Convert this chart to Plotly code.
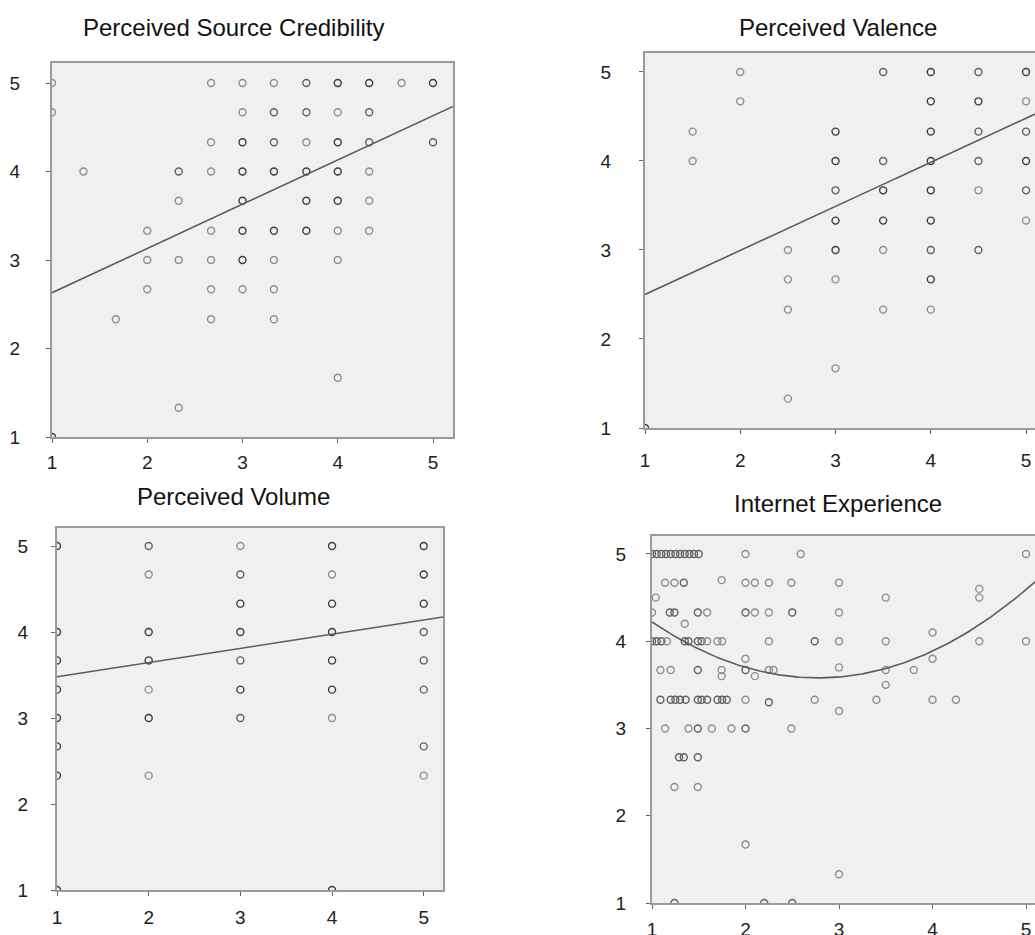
import numpy as np
import plotly.graph_objects as go

# ---------------- data ----------------
titles = ["Perceived Source Credibility", "Perceived Valence", "Perceived Volume", "Internet Experience"]
tick_vals = [1, 2, 3, 4, 5]
tick_text = ["1", "2", "3", "4", "5"]

# Panel 1: Perceived Source Credibility
cred_x = [1, 2.67, 3, 3.33, 3.67, 4, 4.33, 4.67, 5,
          1, 3, 3.33, 3.67, 4, 4.33,
          2.67, 3, 3.33, 3.67, 4, 4.33, 5,
          1.33, 2.33, 2.67, 3, 3.33, 3.67, 4, 4.33,
          2.33, 3, 3.67, 4, 4.33,
          2, 2.67, 3, 3.33, 3.67, 4, 4.33,
          2, 2.33, 2.67, 3, 3.33, 4,
          2, 2.67, 3, 3.33,
          1.67, 2.67, 3.33,
          4, 2.33, 1]
cred_y = [5, 5, 5, 5, 5, 5, 5, 5, 5,
          4.67, 4.67, 4.67, 4.67, 4.67, 4.67,
          4.33, 4.33, 4.33, 4.33, 4.33, 4.33, 4.33,
          4, 4, 4, 4, 4, 4, 4, 4,
          3.67, 3.67, 3.67, 3.67, 3.67,
          3.33, 3.33, 3.33, 3.33, 3.33, 3.33, 3.33,
          3, 3, 3, 3, 3, 3,
          2.67, 2.67, 2.67, 2.67,
          2.33, 2.33, 2.33,
          1.67, 1.33, 1]
cred_n = [1, 1, 1, 1, 2, 3, 3, 1, 3,
          1, 1, 2, 2, 1, 2,
          1, 3, 2, 1, 3, 2, 2,
          1, 2, 1, 3, 3, 3, 3, 1,
          1, 3, 3, 3, 1,
          1, 1, 3, 3, 3, 1, 1,
          1, 1, 1, 3, 1, 1,
          1, 1, 1, 1,
          1, 1, 1,
          1, 1, 3]
cred_fit = [2.13, 0.50]   # intercept, slope

# Panel 2: Perceived Valence
val_x = [2, 3.5, 4, 4.5, 5,
         2, 4, 4.5, 5,
         1.5, 3, 4, 4.5, 5,
         1.5, 3, 3.5, 4, 4.5, 5,
         3, 3.5, 4, 4.5, 5,
         3, 3.5, 4, 5,
         2.5, 3, 3.5, 4, 4.5,
         2.5, 3, 4,
         2.5, 3.5, 4,
         3, 2.5, 1]
val_y = [5, 5, 5, 5, 5,
         4.67, 4.67, 4.67, 4.67,
         4.33, 4.33, 4.33, 4.33, 4.33,
         4, 4, 4, 4, 4, 4,
         3.67, 3.67, 3.67, 3.67, 3.67,
         3.33, 3.33, 3.33, 3.33,
         3, 3, 3, 3, 3,
         2.67, 2.67, 2.67,
         2.33, 2.33, 2.33,
         1.67, 1.33, 1]
val_n = [1, 2, 3, 2, 3,
         1, 3, 3, 1,
         1, 3, 3, 2, 2,
         1, 3, 2, 3, 2, 3,
         2, 3, 3, 1, 2,
         3, 3, 3, 1,
         1, 3, 1, 2, 2,
         1, 1, 3,
         1, 1, 1,
         1, 1, 3]
val_fit = [2.005, 0.495]

# Panel 3: Perceived Volume
vol_x = [1, 1, 1, 1, 1, 1, 1, 1,
         2, 2, 2, 2, 2, 2, 2,
         3, 3, 3, 3, 3, 3, 3,
         4, 4, 4, 4, 4, 4, 4, 4,
         5, 5, 5, 5, 5, 5, 5, 5]
vol_y = [5, 4, 3.67, 3.33, 3, 2.67, 2.33, 1,
         5, 4.67, 4, 3.67, 3.33, 3, 2.33,
         5, 4.67, 4.33, 4, 3.67, 3.33, 3,
         5, 4.67, 4.33, 4, 3.67, 3.33, 3, 1,
         5, 4.67, 4.33, 4, 3.67, 3.33, 2.67, 2.33]
vol_n = [3, 3, 3, 3, 3, 3, 3, 3,
         2, 1, 3, 3, 1, 3, 1,
         1, 2, 3, 3, 2, 3, 2,
         3, 1, 3, 3, 3, 3, 1, 3,
         3, 3, 3, 2, 2, 2, 2, 1]
vol_fit = [3.315, 0.165]

# Panel 4: Internet Experience
exp_x = [1.0, 1.05, 1.1, 1.15, 1.2, 1.25, 1.3, 1.35, 1.4, 1.45, 1.5, 2.0, 2.59, 5.0,
         1.14, 1.24, 1.34, 1.745, 2.0, 2.1, 2.25, 2.49, 3.0,
         1.04, 3.5, 4.5, 4.5,
         1.0, 1.19, 1.24, 1.49, 1.59, 2.0, 2.1, 2.25, 2.5, 3.0,
         1.35,
         1.0, 1.05, 1.1, 1.16, 1.35, 1.39, 1.49, 1.53, 1.59, 1.7, 1.75, 2.25, 2.74, 3.0, 3.5, 4.5, 5.0,
         4.0, 2.0, 4.0,
         1.09, 1.2, 1.49, 1.745, 2.0, 2.25, 2.3, 3.5, 3.8,
         3.0, 1.745, 2.1, 3.5,
         1.09, 1.2, 1.25, 1.3, 1.36, 1.49, 1.53, 1.59, 1.7, 1.75, 1.8, 2.0, 2.74, 3.4, 4.0, 4.25,
         2.25, 3.0,
         1.14, 1.39, 1.49, 1.64, 1.85, 2.0, 2.49,
         1.29, 1.34, 1.49,
         1.24, 1.49,
         2.0, 3.0,
         1.24, 2.2, 2.5]
exp_y = [5, 5, 5, 5, 5, 5, 5, 5, 5, 5, 5, 5, 5, 5,
         4.67, 4.67, 4.67, 4.7, 4.67, 4.67, 4.67, 4.67, 4.67,
         4.5, 4.5, 4.6, 4.5,
         4.33, 4.33, 4.33, 4.33, 4.33, 4.33, 4.33, 4.33, 4.33, 4.33,
         4.2,
         4, 4, 4, 4, 4, 4, 4, 4, 4, 4, 4, 4, 4, 4, 4, 4, 4,
         4.1, 3.8, 3.8,
         3.67, 3.67, 3.67, 3.67, 3.67, 3.67, 3.67, 3.67, 3.67,
         3.7, 3.6, 3.6, 3.5,
         3.33, 3.33, 3.33, 3.33, 3.33, 3.33, 3.33, 3.33, 3.33, 3.33, 3.33, 3.33, 3.33, 3.33, 3.33, 3.33,
         3.3, 3.2,
         3, 3, 3, 3, 3, 3, 3,
         2.67, 2.67, 2.67,
         2.33, 2.33,
         1.67, 1.33,
         1, 1, 1]
exp_n = [2, 2, 2, 2, 2, 2, 2, 2, 2, 2, 2, 1, 1, 1,
         1, 1, 2, 1, 1, 1, 1, 1, 1,
         1, 1, 1, 1,
         1, 2, 2, 2, 1, 2, 1, 1, 2, 1,
         1,
         2, 2, 2, 1, 2, 2, 2, 2, 1, 1, 1, 1, 2, 1, 1, 1, 1,
         1, 1, 1,
         1, 1, 2, 1, 2, 1, 1, 1, 1,
         1, 1, 1, 1,
         2, 2, 2, 2, 2, 2, 2, 2, 2, 2, 2, 1, 1, 1, 1, 1,
         2, 1,
         1, 1, 2, 1, 1, 2, 1,
         2, 2, 2,
         1, 1,
         1, 1,
         2, 2, 2]
exp_fit = [5.1485, -1.1315, 0.204]   # c0, c1, c2

# ---------------- layout geometry ----------------
W, H = 1035, 935
panels = [
    dict(px=(52, 453), py=(63, 437), xr=(1, 5.21), yr=(1, 5.226), right=True, ystand=22, xstand=3),
    dict(px=(645, 1035), py=(53, 428), xr=(1, 5.094), yr=(1, 5.213), right=False, ystand=24, xstand=10),
    dict(px=(57, 443), py=(528, 890), xr=(1, 5.21), yr=(1, 5.21), right=True, ystand=19, xstand=5),
    dict(px=(652, 1035), py=(536, 903), xr=(1, 5.096), yr=(1, 5.206), right=False, ystand=16, xstand=4),
]
title_pos = [(233, 27), (838, 27), (233, 497), (838, 503)]

shade = {1: "#8e8e8e", 2: "#606060", 3: "#3c3c3c"}

fig = go.Figure()
data_sets = [(cred_x, cred_y, cred_n), (val_x, val_y, val_n), (vol_x, vol_y, vol_n), (exp_x, exp_y, exp_n)]

for i, (xs, ys, ns) in enumerate(data_sets):
    k = "" if i == 0 else str(i + 1)
    fig.add_trace(go.Scatter(
        x=xs, y=ys, mode="markers", xaxis="x" + k, yaxis="y" + k,
        marker=dict(symbol="circle-open", size=7,
                    color=[shade[n] for n in ns],
                    line=dict(width=1.4, color=[shade[n] for n in ns])),
        showlegend=False, hoverinfo="x+y"))
    xr = panels[i]["xr"]
    xl = np.linspace(xr[0], xr[1], 200)
    if i == 0:
        yl = cred_fit[0] + cred_fit[1] * xl
    elif i == 1:
        yl = val_fit[0] + val_fit[1] * xl
    elif i == 2:
        yl = vol_fit[0] + vol_fit[1] * xl
    else:
        yl = exp_fit[0] + exp_fit[1] * xl + exp_fit[2] * xl ** 2
    fig.add_trace(go.Scatter(
        x=xl, y=yl, mode="lines", xaxis="x" + k, yaxis="y" + k,
        line=dict(color="#5c5c5c", width=1.6), showlegend=False, hoverinfo="skip"))

layout = dict(
    width=W, height=H, margin=dict(l=0, r=0, t=0, b=0, autoexpand=False),
    paper_bgcolor="white", plot_bgcolor="#f0f0f0",
    font=dict(family="Liberation Sans, Arial, sans-serif", color="#222"),
    annotations=[],
)
for i, p in enumerate(panels):
    k = "" if i == 0 else str(i + 1)
    xd = [p["px"][0] / W, p["px"][1] / W]
    yd = [1 - p["py"][1] / H, 1 - p["py"][0] / H]
    layout["xaxis" + k] = dict(
        domain=xd, range=list(p["xr"]), anchor="y" + k, automargin=False,
        tickmode="array", tickvals=tick_vals, ticktext=tick_text,
        showgrid=False, zeroline=False, showline=True, linecolor="#9a9a9a", linewidth=2,
        mirror=True, ticks="outside", ticklen=4, tickcolor="#666", tickwidth=1,
        tickfont=dict(size=19, color="#222"), ticklabelstandoff=p["xstand"], fixedrange=True)
    layout["yaxis" + k] = dict(
        domain=yd, range=list(p["yr"]), anchor="x" + k, automargin=False,
        tickmode="array", tickvals=tick_vals, ticktext=tick_text,
        showgrid=False, zeroline=False, showline=True, linecolor="#9a9a9a", linewidth=2,
        mirror=True if p["right"] else False, ticks="outside", ticklen=4, tickcolor="#666", tickwidth=1,
        tickfont=dict(size=19, color="#222"), ticklabelstandoff=p["ystand"], fixedrange=True)
    tx, ty = title_pos[i]
    layout["annotations"].append(dict(
        text=titles[i], xref="paper", yref="paper", x=tx / W, y=1 - ty / H,
        xanchor="center", yanchor="middle", showarrow=False,
        font=dict(size=24, color="#111", family="Liberation Sans, Arial, sans-serif")))

fig.update_layout(**layout)
fig.write_html("out.html", config={"displayModeBar": False},
               post_script="document.body.style.margin='0px';document.body.style.overflow='hidden';")
